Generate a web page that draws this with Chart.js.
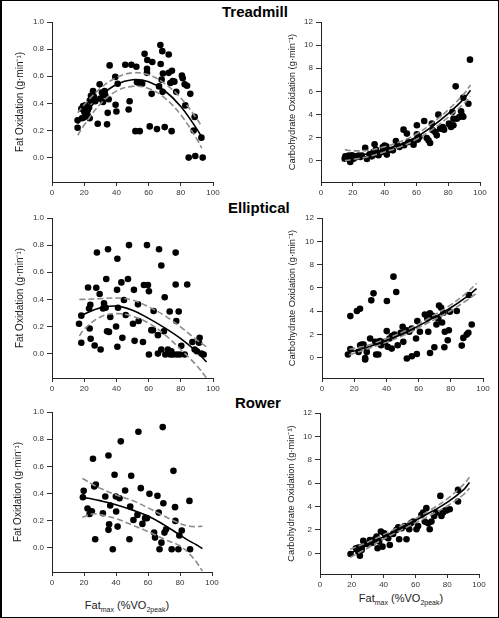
<!DOCTYPE html>
<html lang="en">
<head>
<meta charset="UTF-8">
<title>Fat and carbohydrate oxidation</title>
<script src="https://cdn.jsdelivr.net/npm/chart.js"></script>
<style>
    body {
        margin: 0;
        background: #fff;
        font-family: 'Liberation Sans', Arial, sans-serif;
        width: 499px;
        height: 618px;
        position: relative;
        overflow: hidden;
    }
    .frame {
        position: absolute;
        left: 0; top: 0;
        width: 499px; height: 618px;
        box-sizing: border-box;
        border: 1px solid #000;
        border-left-width: 2px;
    }
    canvas { position: absolute; }
    .mode {
        position: absolute;
        font-size: 15px;
        font-weight: bold;
        line-height: 15px;
        color: #000;
    }
    .xtitle {
        position: absolute;
        width: 160px;
        text-align: center;
        font-size: 11px;
        line-height: 12px;
        color: #222;
    }
    .xtitle sub { font-size: 7px; }
</style>
</head>
<body>
<div class="frame"></div>
<div class="mode" style="left:222px; top:4px;">Treadmill</div>
<div class="mode" style="left:228px; top:200px;">Elliptical</div>
<div class="mode" style="left:235px; top:395px;">Rower</div>
<div class="xtitle" style="left:47px; top:599px;">Fat<sub>max</sub> (%VO<sub>2peak</sub>)</div>
<div class="xtitle" style="left:321px; top:592px;">Fat<sub>max</sub> (%VO<sub>2peak</sub>)</div>

<canvas id="tmFat"></canvas>
<canvas id="tmCho"></canvas>
<canvas id="elFat"></canvas>
<canvas id="elCho"></canvas>
<canvas id="roFat"></canvas>
<canvas id="roCho"></canvas>

<script>
// tick labels
const xTicks = [0, 20, 40, 60, 80, 100];
const fatTicks = [0, 0.2, 0.4, 0.6, 0.8, 1.0];
const choTicks = [0, 2, 4, 6, 8, 10, 12];

// Treadmill - fat oxidation
const tmFatX = [15.9,15.9,18.6,18.2,19.3,20.7,20,21.3,22.2,23,22.2,23.4,19.7,20.5,24.2,25.5,26.3,26.9,23.5,26,28.4,29.6,30,31.7,32.7,33.1,31,34.6,34.2,35.2,35.8,39.3,39.5,40,40.8,45.5,47.6,48.2,49.3,52.4,51.8,54.5,52.8,54.9,56,57.5,59,59.2,59,60.7,61.9,62.3,65.2,66.5,67.3,67.5,68.5,68.9,68.7,68.1,70,72.5,72.5,73.5,74.5,75,74.3,76,77.2,80.7,81.2,82.4,82.8,83.9,84.9,85.9,88,88.6,89,92.8,93.6];
const tmFatY = [0.22,0.275,0.29,0.36,0.38,0.385,0.34,0.32,0.35,0.37,0.31,0.29,0.295,0.33,0.455,0.49,0.435,0.415,0.42,0.45,0.25,0.54,0.435,0.41,0.49,0.46,0.48,0.33,0.245,0.43,0.68,0.595,0.39,0.34,0.545,0.685,0.355,0.415,0.685,0.67,0.195,0.195,0.555,0.545,0.545,0.765,0.655,0.72,0.625,0.23,0.47,0.705,0.21,0.525,0.83,0.69,0.785,0.62,0.485,0.575,0.225,0.76,0.625,0.55,0.64,0.565,0.195,0.56,0.485,0.605,0.585,0.54,0.385,0.53,0.0,0.47,0.2,0.3,0.012,0.147,0.0];
const tmFatCurveX = [16, 20, 30, 40, 50, 60, 70, 80, 90, 93];
const tmFatFit = [0.25, 0.315, 0.452, 0.539, 0.574, 0.559, 0.493, 0.377, 0.21, 0.15];
const tmFatUpper = [0.33, 0.39, 0.51, 0.59, 0.625, 0.61, 0.545, 0.44, 0.285, 0.23];
const tmFatLower = [0.165, 0.24, 0.395, 0.49, 0.525, 0.51, 0.44, 0.315, 0.135, 0.07];

// Treadmill - carbohydrate oxidation
const tmChoX = [14.9,15.3,16.3,17.4,18.4,18.4,19.5,20.5,21.5,22.6,23.6,24.7,25.7,27.8,28.9,30.5,32,33,33.7,34.5,35.1,36.2,38.5,38.9,40,41,41.4,42.5,45.2,47.1,47.7,49.4,51.9,52.3,54,55,58.2,58.2,60.3,60.3,60.9,61.9,64.9,66.5,67.6,68.6,69.7,70.3,71.8,72.8,73.8,74.9,76.6,77.4,80.5,80.8,81.8,82.6,83.3,83.3,84.7,85.4,87,88.1,88.7,89.5,89.5,92.7,93.7];
const tmChoY = [0.17,0.37,0.26,0.43,-0.12,0.32,0.46,0.17,0.37,0.32,0.43,0.32,0.43,1.1,0.14,0.55,0.37,0.75,1.41,0.95,0.52,0.46,0.75,1.18,1.3,1.24,0.52,0.9,0.89,1.7,1.41,1.18,2.68,1.33,2.34,1.62,1.38,1.62,3.06,2.28,1.82,2.05,3.43,1.96,1.76,1.53,3.2,2.62,2.48,2.19,3.98,2.77,2.91,2.68,3.2,3.12,2.91,4.2,3.06,3.63,6.43,3.63,3.78,4.27,3.92,3.8,5.45,4.93,8.74];
const tmChoCurveX = [15, 20, 30, 40, 50, 60, 70, 80, 90, 94];
const tmChoFit = [0.3, 0.4, 0.6, 0.98, 1.41, 2.05, 2.97, 4.07, 5.37, 6.1];
const tmChoUpper = [0.95, 0.85, 0.9, 1.2, 1.65, 2.3, 3.25, 4.4, 5.8, 6.55];
const tmChoLower = [0.0, 0.1, 0.35, 0.75, 1.2, 1.85, 2.7, 3.75, 4.95, 5.6];

// Elliptical - fat oxidation
const elFatX = [16.8,18.2,18.2,22.4,23,23.8,23.4,24,26.5,27.9,27.5,29.6,30.2,31.7,32.3,33.3,33.7,34.2,35.4,34.8,36.2,39.8,40.6,40.4,40.6,41,43.1,43.7,44.7,47.2,47.8,45.8,50.3,50.9,51.3,53.4,53.8,56.5,57.1,59,59.6,60.2,60.2,62.7,63.1,61.7,65.8,65.8,66.5,67.9,67.9,70,69.5,70.4,72,73.1,73.5,74.1,75.2,76.8,76.8,77.2,77.5,78.7,79.3,80.3,82.4,84,87.2,88.6,90,91.3,91.7,92.8,94.2];
const elFatY = [0.22,0.28,0.08,0.487,0.333,0.36,0.185,0.11,0.06,0.746,0.486,0.44,0.03,0.333,0.37,0.338,0.55,0.165,0.16,0.77,0.27,0.2,0.7,0.47,0.05,0.338,0.525,0.116,0.395,0.55,0.8,0.285,0.22,0.47,0.094,0.363,0.24,0.086,0.506,0.8,0.506,0.46,-0.007,0.173,0.314,0.173,0.136,0.0,0.77,0.03,0.65,0.415,0.165,-0.007,0.03,0.31,-0.007,0.017,-0.007,0.745,0.51,0.24,-0.007,0.31,-0.007,0.057,-0.007,0.51,0.086,0.03,0.017,0.08,0.116,0.0,-0.007];
const elFatCurveX = [17, 20, 30, 40, 50, 60, 70, 80, 90, 96];
const elFatFit = [0.265, 0.29, 0.338, 0.35, 0.32, 0.26, 0.19, 0.11, 0.012, -0.062];
const elFatUpper = [0.40, 0.40, 0.405, 0.41, 0.395, 0.345, 0.28, 0.195, 0.10, 0.05];
const elFatLower = [0.13, 0.18, 0.27, 0.295, 0.275, 0.225, 0.14, 0.03, -0.09, -0.18];

// Elliptical - carbohydrate oxidation
const elChoX = [16.1,17.6,17.6,21.7,23.6,22.7,23.7,24.7,25.8,26.8,26.8,27.8,29.9,30.6,32,33,33.6,35,35,36.7,36.1,39.2,40.2,40.3,40.8,41.9,43.3,43.3,44.4,46.1,45,47,48.9,50.1,50.5,52.7,52.6,54.2,55.7,55.8,58.4,59.2,58.9,60.8,63.9,65.4,66,67,67.1,68.7,69.8,71.1,72.2,72.7,74,74.6,75.4,76,76.3,78.1,78.8,79.4,83.7,86.8,87.8,89.9,90.9,93,91.3];
const elChoY = [0.29,0.77,3.59,4.02,4.22,0.52,1.09,1.15,1.15,0.0,-0.14,0.52,1.67,4.94,5.54,1.38,0.29,0.29,1.38,1.09,1.44,1.38,2.3,4.88,0.95,1.67,1.87,0.8,6.97,5.65,2.01,1.09,2.15,2.67,1.38,-0.05,2.38,2.24,2.53,0.14,1.67,3.16,0.34,2.24,3.73,3.39,2.24,3.82,0.43,3.62,0.92,2.87,3.39,4.5,4.3,3.04,3.87,0.92,2.24,1.52,2.38,3.96,4.02,1.06,1.72,2.0,2.15,2.87,5.4];
const elChoCurveX = [17, 20, 30, 40, 50, 60, 70, 80, 90, 96];
const elChoFit = [0.5, 0.6, 1.0, 1.5, 2.05, 2.75, 3.5, 4.3, 5.25, 5.95];
const elChoUpper = [0.75, 0.82, 1.15, 1.65, 2.2, 2.9, 3.7, 4.55, 5.6, 6.4];
const elChoLower = [0.25, 0.4, 0.85, 1.35, 1.9, 2.6, 3.3, 4.05, 4.95, 5.55];

// Rower - fat oxidation
const roFatX = [19.8,19.3,22.2,23.5,24.9,25.6,26.4,27.4,27,31.8,33.3,35.3,35.3,35.7,36.4,38,39.1,39.9,40.1,41,42.2,43,45.7,48.4,48.9,49.5,50.9,53.4,54,55.5,56.5,58.2,59.3,60.9,63.8,64.4,65.9,66.7,67.2,68.4,69.2,69.6,70.3,71.3,74.8,75.9,76.9,77.1,79,79.6,81.1,85.9,86.3];
const roFatY = [0.42,0.373,0.29,0.25,0.27,0.656,0.452,0.467,0.064,0.255,0.378,0.68,0.133,0.174,0.312,-0.01,0.538,0.378,0.268,0.157,0.366,0.784,0.423,0.064,0.305,0.531,0.206,0.243,0.855,0.44,0.177,0.219,0.219,0.398,0.113,0.076,0.383,0.26,-0.01,0.039,0.889,0.329,0.113,0.138,-0.01,0.567,0.3,0.199,-0.01,0.091,0.128,0.346,-0.01];
const roFatCurveX = [19, 20, 25, 30, 40, 50, 60, 70, 80, 86, 90, 94];
const roFatFit = [0.373, 0.37, 0.36, 0.348, 0.318, 0.28, 0.235, 0.17, 0.095, 0.05, 0.025, -0.005];
const roFatUpper = [0.51, 0.505, 0.47, 0.44, 0.39, 0.35, 0.295, 0.235, 0.18, 0.16, 0.157, 0.16];
const roFatLower = [0.225, 0.23, 0.25, 0.245, 0.215, 0.17, 0.12, 0.065, 0.015, -0.045, -0.1, -0.17];

// Rower - carbohydrate oxidation
const roChoX = [19.2,22.6,24.1,24.1,25.1,26.2,26.2,27.2,29.3,31.4,33,34.5,35.6,36.2,37.2,38.3,39.3,40.4,41.4,42.9,43.9,46,48.1,49.2,49.8,51.3,53.3,54.4,56.1,57.1,58.6,60.7,61.7,63.8,64.9,65.9,66.9,68,69,70.1,71.8,73.2,75.7,76.4,77.4,78.5,79.5,81.6,86.8,86.8];
const roChoY = [-0.06,0.43,0.49,0.14,-0.2,0.51,0.29,1.06,0.8,1.14,0.91,1.2,1.43,0.43,1.0,1.86,0.57,1.71,1.43,1.29,0.71,1.66,2.0,2.23,1.2,2.14,2.34,1.2,2.06,2.57,2.71,2.06,2.34,3.29,3.49,2.71,3.86,2.57,2.06,2.71,3.2,3.49,4.91,3.2,3.49,3.66,3.66,3.77,5.43,4.43];
const roChoCurveX = [19, 30, 40, 50, 60, 70, 80, 90, 94];
const roChoFit = [0.0, 0.72, 1.42, 2.1, 2.8, 3.55, 4.35, 5.4, 6.05];
const roChoUpper = [0.35, 0.95, 1.6, 2.28, 2.97, 3.75, 4.65, 5.85, 6.5];
const roChoLower = [-0.35, 0.45, 1.22, 1.92, 2.6, 3.3, 4.05, 5.0, 5.55];

Chart.defaults.font.family = "'Liberation Sans', Arial, sans-serif";

const fatTitle = 'Fat Oxidation (g·min⁻¹)';
const choTitle = 'Carbohydrate Oxidation (g·min⁻¹)';

function pts(xs, ys) {
    return xs.map((x, i) => ({ x: x, y: ys[i] }));
}

function drawPanel(p) {
    const padTop = 8, padRight = 10, xAxisH = 25;
    const cv = document.getElementById(p.id);
    const w = Math.round(p.r + padRight - p.left);
    const h = Math.round(p.b - p.t + padTop + xAxisH);
    cv.width = w;
    cv.height = h;
    cv.style.left = p.left + 'px';
    cv.style.top = (p.t - padTop) + 'px';
    const yAxisW = p.l - p.left;
    const lh = p.titleSize * 1.2;

    const lineSet = (data, color, dash) => ({
        type: 'line',
        data: data,
        borderColor: color,
        borderWidth: 1.6,
        borderDash: dash,
        pointRadius: 0,
        tension: 0.4,
        fill: false
    });

    new Chart(cv, {
        type: 'scatter',
        data: {
            datasets: [
                lineSet(pts(p.cx, p.fit), '#000', []),
                lineSet(pts(p.cx, p.up), '#8c8c8c', [6, 3]),
                lineSet(pts(p.cx, p.lo), '#8c8c8c', [6, 3]),
                {
                    data: pts(p.xs, p.ys),
                    backgroundColor: '#000',
                    borderWidth: 0,
                    pointRadius: 3.3
                }
            ]
        },
        options: {
            responsive: false,
            animation: false,
            layout: { padding: { top: padTop, right: padRight, left: 0, bottom: 0 } },
            plugins: { legend: { display: false }, tooltip: { enabled: false } },
            scales: {
                x: {
                    type: 'linear',
                    min: 0,
                    max: 100,
                    afterBuildTicks: s => { s.ticks = xTicks.map(v => ({ value: v })); },
                    afterFit: s => { s.height = xAxisH; },
                    grid: { drawOnChartArea: false, drawTicks: true, tickLength: 4, color: '#333' },
                    border: { color: '#222', width: 1 },
                    ticks: { font: { size: 8 }, color: '#333', padding: 2, maxRotation: 0 }
                },
                y: {
                    type: 'linear',
                    min: p.yMin,
                    max: p.yMax,
                    afterBuildTicks: s => { s.ticks = p.ticks.map(v => ({ value: v })); },
                    afterFit: s => { s.width = yAxisW; },
                    grid: { drawOnChartArea: false, drawTicks: true, tickLength: 5, color: '#333' },
                    border: { color: '#222', width: 1 },
                    ticks: {
                        font: { size: 8 },
                        color: '#333',
                        padding: 3,
                        callback: v => v.toFixed(p.dec)
                    },
                    title: {
                        display: true,
                        text: p.title,
                        color: '#222',
                        font: { size: p.titleSize },
                        padding: { top: p.titleX - p.left - lh / 2, bottom: 0 }
                    }
                }
            }
        }
    });
}

drawPanel({ id: 'tmFat', left: 0, l: 52, t: 22, r: 213, b: 182, yMin: -0.18, yMax: 1, ticks: fatTicks, dec: 1,
    title: fatTitle, titleX: 20, titleSize: 10,
    xs: tmFatX, ys: tmFatY, cx: tmFatCurveX, fit: tmFatFit, up: tmFatUpper, lo: tmFatLower });
drawPanel({ id: 'tmCho', left: 250, l: 321, t: 22, r: 480, b: 182, yMin: -1.85, yMax: 12, ticks: choTicks, dec: 0,
    title: choTitle, titleX: 292, titleSize: 9.3,
    xs: tmChoX, ys: tmChoY, cx: tmChoCurveX, fit: tmChoFit, up: tmChoUpper, lo: tmChoLower });
drawPanel({ id: 'elFat', left: 0, l: 52, t: 218, r: 213, b: 378, yMin: -0.18, yMax: 1, ticks: fatTicks, dec: 1,
    title: fatTitle, titleX: 20, titleSize: 10,
    xs: elFatX, ys: elFatY, cx: elFatCurveX, fit: elFatFit, up: elFatUpper, lo: elFatLower });
drawPanel({ id: 'elCho', left: 250, l: 322, t: 218, r: 483, b: 378, yMin: -1.72, yMax: 12, ticks: choTicks, dec: 0,
    title: choTitle, titleX: 292, titleSize: 9.3,
    xs: elChoX, ys: elChoY, cx: elChoCurveX, fit: elChoFit, up: elChoUpper, lo: elChoLower });
drawPanel({ id: 'roFat', left: 0, l: 52, t: 412, r: 212, b: 572, yMin: -0.177, yMax: 1, ticks: fatTicks, dec: 1,
    title: fatTitle, titleX: 18, titleSize: 10,
    xs: roFatX, ys: roFatY, cx: roFatCurveX, fit: roFatFit, up: roFatUpper, lo: roFatLower });
drawPanel({ id: 'roCho', left: 250, l: 320, t: 413, r: 479, b: 574, yMin: -1.77, yMax: 12, ticks: choTicks, dec: 0,
    title: choTitle, titleX: 291, titleSize: 9.3,
    xs: roChoX, ys: roChoY, cx: roChoCurveX, fit: roChoFit, up: roChoUpper, lo: roChoLower });
</script>
</body>
</html>
